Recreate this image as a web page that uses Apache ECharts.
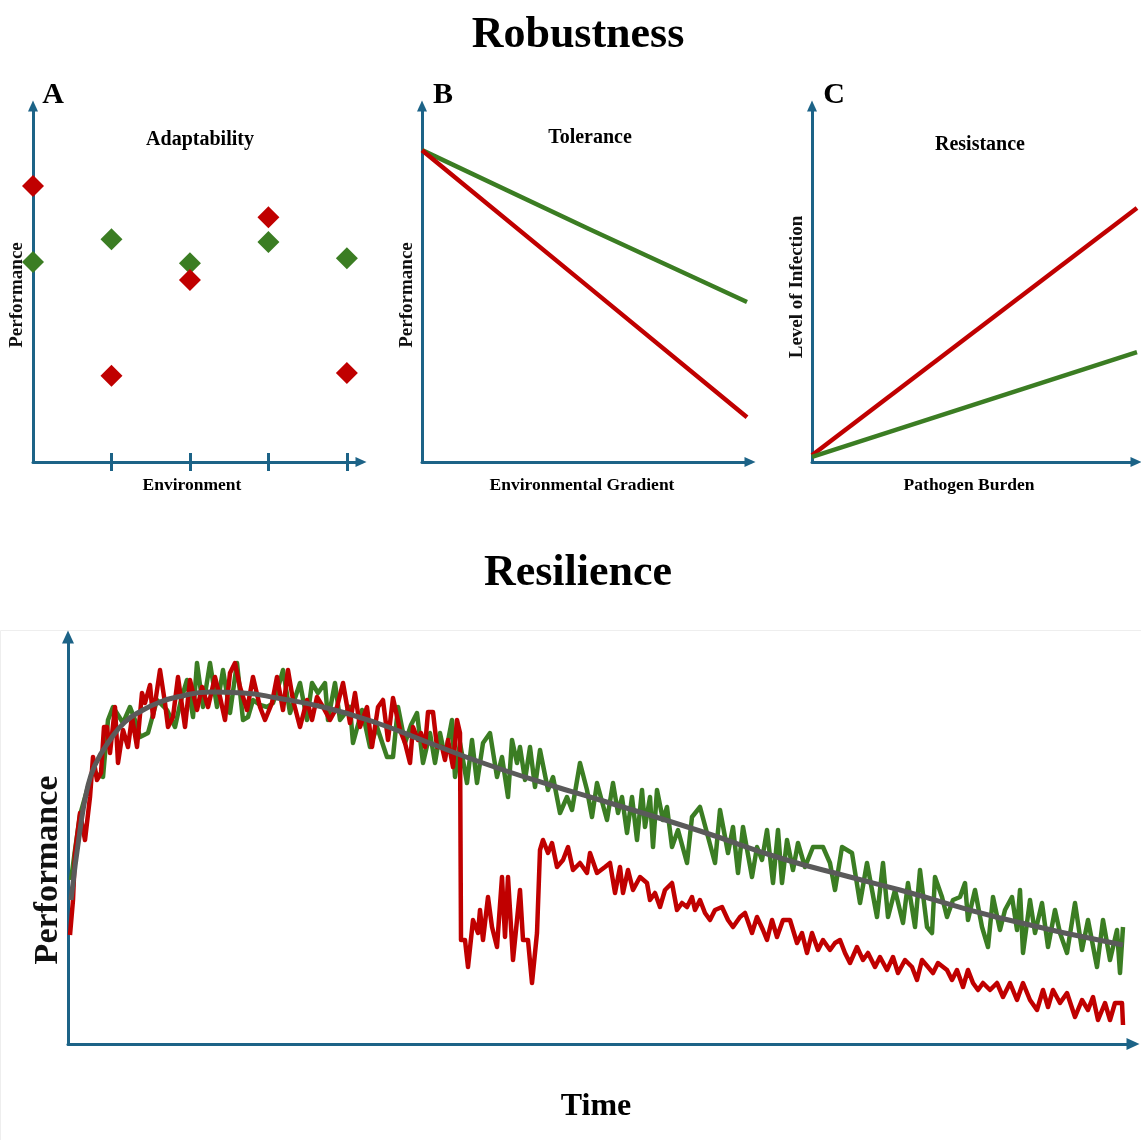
<!DOCTYPE html>
<html>
<head>
<meta charset="utf-8">
<script src="https://cdn.jsdelivr.net/npm/echarts@6/dist/echarts.min.js"></script>
<style>
  html, body { margin: 0; padding: 0; background: #fff; }
  #chart { width: 1141px; height: 1140px; }
</style>
</head>
<body>
<div id="chart"></div>
<script>
// ---- Panel A: adaptability across environments ----
const envSteps = [0, 1, 2, 3, 4];
const adaptRed = [76.9, 24.0, 50.7, 68.2, 24.8];
const adaptGreen = [55.7, 62.1, 55.4, 61.3, 56.8];
const envTicks = [1, 2, 3, 4];

// ---- Panel B: tolerance along an environmental gradient ----
const gradientX = [0, 50, 97.6];
const toleranceGreen = [86.9, 65.0, 44.6];
const toleranceRed = [86.9, 48.8, 12.5];

// ---- Panel C: resistance vs. pathogen burden ----
const burdenX = [0, 98.8];
const infectionRed = [1.9, 70.8];
const infectionGreen = [1.4, 30.6];

// ---- Resilience: performance over time ([time, performance]) ----
const greenTrace = [
  [3,164],[7,194],[12,229],[19,254],[25,274],[30,269],[35,267],[40,324],[45,337],[50,329],
  [55,321],[62,337],[67,324],[72,307],[80,311],[89,344],[94,339],[99,334],[107,317],[113,344],
  [119,364],[125,327],[129,381],[135,337],[142,381],[149,337],[155,374],[162,331],[169,381],[175,324],
  [180,327],[185,344],[192,339],[199,337],[205,341],[210,356],[215,374],[222,331],[232,361],[239,324],
  [244,361],[250,351],[257,361],[260,324],[267,361],[272,324],[282,337],[285,301],[294,334],[302,297],
  [309,317],[319,287],[325,287],[330,337],[337,301],[343,319],[349,331],[355,281],[362,311],[367,281],
  [372,311],[377,287],[384,324],[387,267],[392,301],[399,261],[404,304],[409,261],[415,301],[422,311],
  [429,267],[434,287],[440,247],[444,304],[449,281],[452,297],[457,264],[462,297],[467,257],[472,294],
  [480,254],[485,267],[492,231],[499,247],[504,234],[512,281],[519,254],[524,227],[529,261],[539,224],
  [545,261],[550,231],[554,247],[559,211],[564,247],[569,204],[574,254],[577,217],[582,247],[585,197],
  [589,254],[595,224],[599,237],[604,197],[610,214],[619,181],[624,227],[632,237],[639,211],[647,181],
  [652,234],[660,191],[665,217],[670,171],[675,217],[684,167],[689,197],[694,184],[699,214],[705,161],
  [710,214],[714,161],[719,204],[725,174],[730,201],[737,177],[745,197],[755,197],[762,181],[767,154],
  [774,197],[784,191],[792,141],[799,181],[809,127],[815,181],[820,127],[827,154],[835,121],[840,161],
  [847,117],[852,174],[859,117],[864,111],[867,167],[874,147],[879,127],[885,144],[892,147],[897,161],
  [900,124],[907,154],[914,117],[920,97],[925,147],[932,114],[937,134],[944,147],[949,114],[952,154],
  [955,91],[962,144],[967,111],[974,141],[980,97],[987,134],[992,111],[999,91],[1007,141],[1014,94],
  [1020,124],[1029,77],[1035,124],[1042,84],[1049,114],[1052,71],[1055,117]
];
const redTrace = [
  [2,109],[5,144],[7,191],[12,231],[17,204],[22,247],[25,287],[29,264],[33,271],[36,317],
  [39,317],[42,291],[47,337],[50,281],[55,314],[60,297],[64,327],[69,297],[74,351],[77,341],
  [82,359],[85,327],[92,374],[97,341],[100,317],[105,327],[110,367],[117,317],[122,364],[129,334],
  [134,357],[140,337],[147,367],[152,347],[157,324],[162,371],[167,381],[172,357],[179,334],[185,367],
  [192,337],[197,324],[204,341],[209,367],[215,334],[220,374],[225,344],[232,317],[239,344],[244,324],
  [249,347],[255,337],[262,324],[269,337],[275,361],[282,321],[287,351],[292,317],[299,337],[304,297],
  [310,337],[315,344],[320,304],[325,346],[332,314],[337,301],[342,281],[345,317],[350,304],[353,311],
  [357,297],[360,332],[365,332],[369,297],[374,297],[377,284],[380,304],[385,277],[389,324],[392,311],
  [393,104],[397,104],[400,77],[405,124],[410,111],[412,134],[415,104],[420,147],[424,117],[429,97],
  [434,167],[437,107],[440,167],[445,84],[452,154],[455,104],[460,104],[464,61],[469,111],[472,194],
  [475,204],[480,191],[484,201],[489,177],[495,184],[500,197],[505,174],[512,181],[519,171],[522,191],
  [529,171],[537,177],[542,181],[547,151],[552,177],[555,151],[560,174],[565,154],[572,167],[579,161],
  [582,144],[587,151],[592,137],[597,154],[604,161],[609,134],[614,141],[619,137],[624,147],[627,134],
  [632,144],[637,131],[642,124],[647,134],[654,137],[660,124],[665,117],[672,127],[677,131],[684,111],
  [689,127],[695,114],[699,104],[704,124],[709,107],[715,124],[722,124],[729,101],[734,111],[739,91],
  [744,111],[750,94],[755,104],[762,94],[767,101],[772,104],[777,91],[782,81],[789,97],[795,84],
  [800,91],[807,77],[812,87],[819,74],[825,87],[830,71],[837,84],[844,77],[849,64],[854,84],
  [860,77],[865,71],[870,81],[879,74],[884,64],[889,74],[895,57],[900,74],[905,61],[910,54],
  [915,61],[922,54],[929,61],[935,47],[942,61],[949,44],[955,61],[962,44],[969,34],[975,54],
  [980,37],[985,54],[992,41],[999,51],[1007,27],[1014,44],[1020,34],[1025,47],[1030,24],[1037,41],
  [1042,24],[1047,41],[1054,41],[1055,19]
];
const trendLine = [
  [3,144],[12,214],[19,254],[27,279],[42,304],[57,322],[75,334],[92,342],[109,347],[142,352],
  [175,351],[209,346],[259,336],[309,321],[359,302],[412,282],[482,259],[532,244],[632,213],[712,186],
  [782,167],[832,154],[932,126],[1055,99]
];

const RED = '#c00000';
const GREEN = '#3b7d23';
const GREY = '#5a5a5a';
const AXIS = '#1c6387';
const SERIF = '"Liberation Serif", "DejaVu Serif", serif';

function axisLine(arrowSize) {
  return {
    show: true,
    lineStyle: { color: AXIS, width: 3 },
    symbol: ['none', 'triangle'],
    symbolSize: arrowSize,
    symbolOffset: [0, 0]
  };
}
function valueAxis(extra, arrowSize) {
  return Object.assign({
    type: 'value',
    axisLine: axisLine(arrowSize || [10, 11]),
    axisTick: { show: false },
    axisLabel: { show: false },
    splitLine: { show: false }
  }, extra);
}
// horizontal text, centred on `left`
function label(text, left, top, size) {
  return {
    text: text, left: left, top: top, textAlign: 'center', padding: 0,
    textStyle: { fontFamily: SERIF, fontWeight: 'bold', fontSize: size, color: '#000' }
  };
}
// vertical axis title, centred on (x, y), reading bottom to top
function sideLabel(text, x, y, size) {
  return {
    type: 'text', x: x, y: y, rotation: Math.PI / 2, silent: true,
    style: {
      text: text, fill: '#111', font: 'bold ' + size + 'px ' + SERIF,
      align: 'center', verticalAlign: 'middle', textAlign: 'center', textVerticalAlign: 'middle'
    }
  };
}

const chart = echarts.init(document.getElementById('chart'), null, { renderer: 'canvas' });

chart.setOption({
  backgroundColor: '#fff',
  animation: false,
  graphic: [
    { type: 'rect', shape: { x: 0.5, y: 630.5, width: 1145, height: 520 },
      style: { fill: 'none', stroke: '#eeeeee', lineWidth: 1 }, silent: true, z: -10 },
    sideLabel('Performance', 17, 295, 19),
    sideLabel('Performance', 407, 295, 19),
    sideLabel('Level of Infection', 797, 287, 19),
    sideLabel('Performance', 48, 870, 34)
  ],
  title: [
    label('Robustness', 578, 14, 44),
    label('Resilience', 578, 552, 44),
    label('A', 53, 80, 30),
    label('B', 443, 80, 30),
    label('C', 834, 80, 30),
    label('Adaptability', 200, 130, 20),
    label('Tolerance', 590, 128, 20),
    label('Resistance', 980, 135, 20),
    label('Environment', 192, 476, 17.5),
    label('Environmental Gradient', 582, 476, 17.5),
    label('Pathogen Burden', 969, 476, 17.5),
    label('Time', 596, 1091, 32)
  ],
  grid: [
    { left: 33, top: 106, width: 328, height: 356, outerBoundsMode: 'none' },
    { left: 422, top: 106, width: 328, height: 356, outerBoundsMode: 'none' },
    { left: 812, top: 106, width: 324, height: 356, outerBoundsMode: 'none' },
    { left: 68, top: 637, width: 1065, height: 407, outerBoundsMode: 'none' }
  ],
  xAxis: [
    valueAxis({ gridIndex: 0, min: 0, max: 4.18,
      axisTick: { show: true, customValues: envTicks, length: 9, lineStyle: { color: AXIS, width: 3 } } }),
    valueAxis({ gridIndex: 1, min: 0, max: 98.5 }),
    valueAxis({ gridIndex: 2, min: 0, max: 98.5 }),
    valueAxis({ gridIndex: 3, min: 0, max: 1065 }, [12, 13]),
    // inward half of the environment tick marks
    { type: 'value', gridIndex: 0, position: 'bottom', min: 0, max: 4.18,
      axisLine: { show: false }, axisLabel: { show: false }, splitLine: { show: false },
      axisTick: { show: true, inside: true, customValues: envTicks, length: 9, lineStyle: { color: AXIS, width: 3 } } }
  ],
  yAxis: [
    valueAxis({ gridIndex: 0, min: 0, max: 99.2 }),
    valueAxis({ gridIndex: 1, min: 0, max: 99.2 }),
    valueAxis({ gridIndex: 2, min: 0, max: 99.2 }),
    valueAxis({ gridIndex: 3, min: 0, max: 407 }, [12, 13])
  ],
  series: [
    { type: 'scatter', xAxisIndex: 0, yAxisIndex: 0, symbol: 'diamond', symbolSize: 22,
      itemStyle: { color: GREEN, opacity: 1 }, data: envSteps.map((x, i) => [x, adaptGreen[i]]), z: 3 },
    { type: 'scatter', xAxisIndex: 0, yAxisIndex: 0, symbol: 'diamond', symbolSize: 22,
      itemStyle: { color: RED, opacity: 1 }, data: envSteps.map((x, i) => [x, adaptRed[i]]), z: 4 },

    { type: 'line', xAxisIndex: 1, yAxisIndex: 1, showSymbol: false, smooth: true,
      lineStyle: { color: GREEN, width: 4.5 }, data: gradientX.map((x, i) => [x, toleranceGreen[i]]) },
    { type: 'line', xAxisIndex: 1, yAxisIndex: 1, showSymbol: false,
      lineStyle: { color: RED, width: 4.5 }, data: gradientX.map((x, i) => [x, toleranceRed[i]]) },

    { type: 'line', xAxisIndex: 2, yAxisIndex: 2, showSymbol: false,
      lineStyle: { color: RED, width: 4.5 }, data: burdenX.map((x, i) => [x, infectionRed[i]]) },
    { type: 'line', xAxisIndex: 2, yAxisIndex: 2, showSymbol: false,
      lineStyle: { color: GREEN, width: 4.5 }, data: burdenX.map((x, i) => [x, infectionGreen[i]]) },

    { type: 'line', xAxisIndex: 3, yAxisIndex: 3, showSymbol: false,
      lineStyle: { color: GREEN, width: 4.5, join: 'round' }, data: greenTrace, z: 2 },
    { type: 'line', xAxisIndex: 3, yAxisIndex: 3, showSymbol: false,
      lineStyle: { color: RED, width: 4.5, join: 'round' }, data: redTrace, z: 3 },
    { type: 'line', xAxisIndex: 3, yAxisIndex: 3, showSymbol: false, smooth: true,
      lineStyle: { color: GREY, width: 5 }, data: trendLine, z: 4 }
  ]
});
</script>
</body>
</html>
